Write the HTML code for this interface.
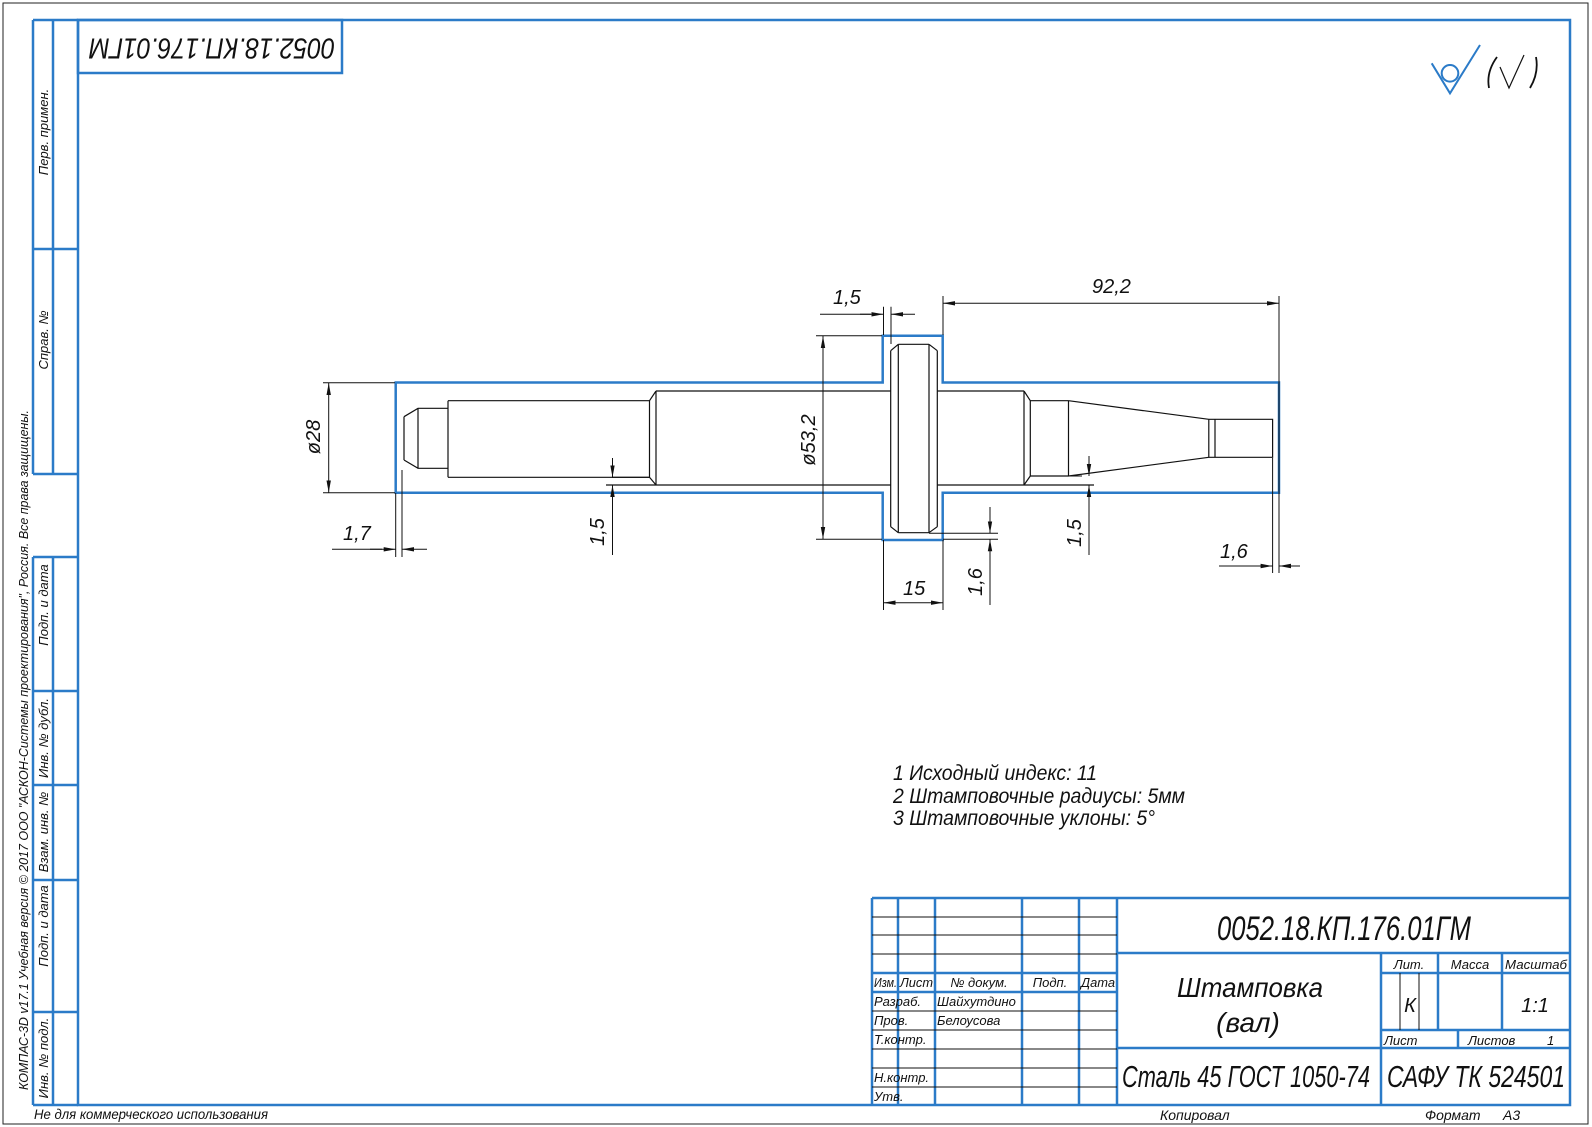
<!DOCTYPE html>
<html><head><meta charset="utf-8"><style>
html,body{margin:0;padding:0;background:#fff;}
svg{display:block}
text{font-family:"Liberation Sans","DejaVu Sans",sans-serif;font-style:italic;fill:#111;}
</style></head><body>
<svg width="1592" height="1127" viewBox="0 0 1592 1127" xmlns="http://www.w3.org/2000/svg">
<defs>
<marker id="a" viewBox="0 0 12 6" refX="12" refY="3" markerWidth="12" markerHeight="6" markerUnits="userSpaceOnUse" orient="auto"><path d="M0,0.8 L12,3 L0,5.2 Z" fill="#111"/></marker>
</defs>
<rect x="3" y="3" width="1585" height="1121" fill="none" stroke="#222" stroke-width="1"/>
<g fill="none" stroke="#2b7bc8" stroke-width="2.5">
<rect x="78" y="20" width="1492" height="1085"/>
<rect x="78" y="20" width="264" height="53"/>
<path d="M33,20 V474 M53,20 V474 M33,20 H78 M33,249 H78 M33,474 H78"/>
<path d="M33,557 V1105 M53,557 V1105 M33,557 H78 M33,691 H78 M33,785 H78 M33,880 H78 M33,1012 H78 M33,1105 H78"/>
<path d="M872,898 H1570 M872,898 V1105 M898,898 V1105 M935,898 V1105 M1022,898 V1105 M1079,898 V1105 M1117,898 V1105"/>
<path d="M872,973 H1117 M872,992 H1117"/>
<path d="M1117,953 H1570 M1381,953 V1105 M1381,973 H1570 M1438,953 V1030 M1502,953 V1030 M1381,1030 H1570 M1458,1030 V1048 M1117,1048 H1570"/>
</g>
<g stroke="#111" stroke-width="1" fill="none">
<path d="M872,917 H1117 M872,935 H1117 M872,954 H1117 M872,1011 H1117 M872,1030 H1117 M872,1049 H1117 M872,1068 H1117 M872,1087 H1117"/>
<path d="M1400,973 V1030 M1419,973 V1030"/>
</g>
<path d="M395.7,382.5 H882.7 V335.7 H942.7 V382.5 H1279 V492.7 H942.7 V540 H882.7 V492.7 H395.7 Z" fill="none" stroke="#2b7bc8" stroke-width="2.5"/>
<g stroke="#111" stroke-width="1.2" fill="none">
<path d="M404,416.7 V460 M404,416.7 L418,408.3 H448 M404,460 L418,468.3 H448 M418,408.3 V468.3"/>
<path d="M448,400.7 V477.3 M448,400.7 H649.5 M448,477.3 H649.5"/>
<path d="M649.5,400.7 L656,391 M649.5,477.3 L656,485 M649.5,400.7 V477.3 M656,391 V485 M656,391 H890.7 M606,485 H890.7 M612,477.3 H649.5"/>
<path d="M890.7,350.7 V526.7 M937.3,350.7 V526.7 M898.3,344.3 V532.7 M929,344.3 V532.7 M898.3,344.3 H929 M898.3,532.7 H929 M890.7,350.7 L898.3,344.3 M929,344.3 L937.3,350.7 M890.7,526.7 L898.3,532.7 M929,532.7 L937.3,526.7"/>
<path d="M937.3,391 H1024 M937.3,485 H1094 M1024,391 L1030.3,400.7 M1024,485 L1030.3,476 M1024,391 V485 M1030.3,400.7 V476 M1030.3,400.7 H1068.5 M1030.3,476 H1068.5 M1068.5,400.7 V476"/>
<path d="M1068.5,400.7 L1208.8,419.3 M1068.5,476 L1208.8,457.3 M1208.8,419.3 V457.3 M1208.8,419.3 H1215 M1208.8,457.3 H1215 M1215,419.3 V457.3 M1215,419.3 H1272.6 V457.3 H1215"/>
</g>
<g stroke="#111" stroke-width="1" fill="none">
<path d="M323,382.7 H395 M323,492.7 H395"/>
<line x1="328.7" y1="437" x2="328.7" y2="383" marker-end="url(#a)"/>
<line x1="328.7" y1="437" x2="328.7" y2="492.5" marker-end="url(#a)"/>
<path d="M395.7,493 V557 M402,470 V557 M332,549.3 H382"/>
<line x1="370" y1="549.3" x2="395.7" y2="549.3" marker-end="url(#a)"/>
<line x1="427" y1="549.3" x2="402" y2="549.3" marker-end="url(#a)"/>
<path d="M883.5,306.7 V335 M891,306.7 V344 M820,314.3 H871"/>
<line x1="860" y1="314.3" x2="883.5" y2="314.3" marker-end="url(#a)"/>
<line x1="915" y1="314.3" x2="891" y2="314.3" marker-end="url(#a)"/>
<path d="M943,296 V335 M1279,296 V573"/>
<line x1="1110" y1="303.3" x2="943" y2="303.3" marker-end="url(#a)"/>
<line x1="1110" y1="303.3" x2="1279" y2="303.3" marker-end="url(#a)"/>
<path d="M816,335.7 H882 M816,539.3 H882"/>
<line x1="823" y1="440" x2="823" y2="336" marker-end="url(#a)"/>
<line x1="823" y1="440" x2="823" y2="539" marker-end="url(#a)"/>
<path d="M883.5,540 V610 M943,540 V610"/>
<line x1="913" y1="602.7" x2="883.5" y2="602.7" marker-end="url(#a)"/>
<line x1="913" y1="602.7" x2="943" y2="602.7" marker-end="url(#a)"/>
<path d="M929,533.3 H998 M943,539.3 H998"/>
<line x1="990" y1="507" x2="990" y2="533.3" marker-end="url(#a)"/>
<line x1="990" y1="605" x2="990" y2="539.3" marker-end="url(#a)"/>
<line x1="612.5" y1="458" x2="612.5" y2="477.3" marker-end="url(#a)"/>
<line x1="612.5" y1="555" x2="612.5" y2="485" marker-end="url(#a)"/>
<path d="M1068.5,476 H1082"/>
<line x1="1089" y1="456" x2="1089" y2="476" marker-end="url(#a)"/>
<line x1="1089" y1="555" x2="1089" y2="485" marker-end="url(#a)"/>
<path d="M1272.6,458 V573 M1219,566 H1262"/>
<line x1="1250" y1="566" x2="1272.6" y2="566" marker-end="url(#a)"/>
<line x1="1300" y1="566" x2="1279" y2="566" marker-end="url(#a)"/>
</g>
<g font-size="20">
<text transform="translate(320,437) rotate(-90)" text-anchor="middle">ø28</text>
<text x="343" y="540">1,7</text>
<text x="833" y="304">1,5</text>
<text x="1092" y="293">92,2</text>
<text transform="translate(815,440) rotate(-90)" text-anchor="middle">ø53,2</text>
<text x="903" y="595">15</text>
<text transform="translate(982,582) rotate(-90)" text-anchor="middle">1,6</text>
<text transform="translate(604,532) rotate(-90)" text-anchor="middle">1,5</text>
<text transform="translate(1081,533) rotate(-90)" text-anchor="middle">1,5</text>
<text x="1220" y="558">1,6</text>
</g>
<g font-size="21">
<text x="893" y="780" textLength="204" lengthAdjust="spacingAndGlyphs">1 Исходный индекс: 11</text>
<text x="893" y="803" textLength="292" lengthAdjust="spacingAndGlyphs">2 Штамповочные радиусы: 5мм</text>
<text x="893" y="825" textLength="262" lengthAdjust="spacingAndGlyphs">3 Штамповочные уклоны: 5°</text>
</g>
<g fill="none" stroke-width="2">
<path d="M1431.7,63.3 L1450,93.3 L1480,45" stroke="#2b7bc8"/>
<circle cx="1450" cy="73.3" r="8.3" stroke="#2b7bc8"/>
<path d="M1497,57 Q1486,72 1489,88 M1536,57 Q1539,73 1530,88" stroke="#111" stroke-width="1.8"/>
<path d="M1500,67 L1509,88 L1524,55" stroke="#111" stroke-width="1.2"/>
</g>
<text transform="translate(212,46) rotate(180)" font-size="29" text-anchor="middle" dominant-baseline="middle" textLength="246" lengthAdjust="spacingAndGlyphs">0052.18.КП.176.01ГМ</text>
<g font-size="13">
<text transform="translate(48,132) rotate(-90)" text-anchor="middle">Перв. примен.</text>
<text transform="translate(48,340) rotate(-90)" text-anchor="middle">Справ. №</text>
<text transform="translate(48,605) rotate(-90)" text-anchor="middle">Подп. и дата</text>
<text transform="translate(48,738) rotate(-90)" text-anchor="middle">Инв. № дубл.</text>
<text transform="translate(48,832) rotate(-90)" text-anchor="middle">Взам. инв. №</text>
<text transform="translate(48,926) rotate(-90)" text-anchor="middle">Подп. и дата</text>
<text transform="translate(48,1058) rotate(-90)" text-anchor="middle">Инв. № подл.</text>
<text transform="translate(28,1090) rotate(-90)" textLength="680" lengthAdjust="spacingAndGlyphs">КОМПАС-3D v17.1 Учебная версия © 2017 ООО "АСКОН-Системы проектирования", Россия. Все права защищены.</text>
</g>
<text x="34" y="1119" font-size="14" textLength="234" lengthAdjust="spacingAndGlyphs">Не для коммерческого использования</text>
<g font-size="13">
<text x="874" y="987" textLength="23" lengthAdjust="spacingAndGlyphs">Изм.</text>
<text x="900" y="987" textLength="33" lengthAdjust="spacingAndGlyphs">Лист</text>
<text x="979" y="987" text-anchor="middle">№ докум.</text>
<text x="1050" y="987" text-anchor="middle">Подп.</text>
<text x="1098" y="987" text-anchor="middle" textLength="34" lengthAdjust="spacingAndGlyphs">Дата</text>
<text x="874" y="1006">Разраб.</text>
<text x="937" y="1006">Шайхутдино</text>
<text x="874" y="1025">Пров.</text>
<text x="937" y="1025">Белоусова</text>
<text x="874" y="1044">Т.контр.</text>
<text x="874" y="1082">Н.контр.</text>
<text x="874" y="1101">Утв.</text>
<text x="1409" y="969" text-anchor="middle">Лит.</text>
<text x="1470" y="969" text-anchor="middle">Масса</text>
<text x="1536" y="969" text-anchor="middle" textLength="62" lengthAdjust="spacingAndGlyphs">Масштаб</text>
<text x="1384" y="1045">Лист</text>
<text x="1468" y="1045">Листов</text>
<text x="1547" y="1045">1</text>
</g>
<text x="1410" y="1012" font-size="20" text-anchor="middle">К</text>
<text x="1535" y="1012" font-size="20" text-anchor="middle">1:1</text>
<text x="1344" y="940" font-size="34" text-anchor="middle" textLength="254" lengthAdjust="spacingAndGlyphs">0052.18.КП.176.01ГМ</text>
<text x="1250" y="997" font-size="28" text-anchor="middle" textLength="146" lengthAdjust="spacingAndGlyphs">Штамповка</text>
<text x="1248" y="1032" font-size="28" text-anchor="middle">(вал)</text>
<text x="1122" y="1087" font-size="31" textLength="248" lengthAdjust="spacingAndGlyphs">Сталь 45  ГОСТ 1050-74</text>
<text x="1387" y="1087" font-size="31" textLength="178" lengthAdjust="spacingAndGlyphs">САФУ ТК 524501</text>
<text x="1160" y="1120" font-size="14">Копировал</text>
<text x="1425" y="1120" font-size="14">Формат</text>
<text x="1503" y="1120" font-size="14">А3</text>
</svg>
</body></html>
